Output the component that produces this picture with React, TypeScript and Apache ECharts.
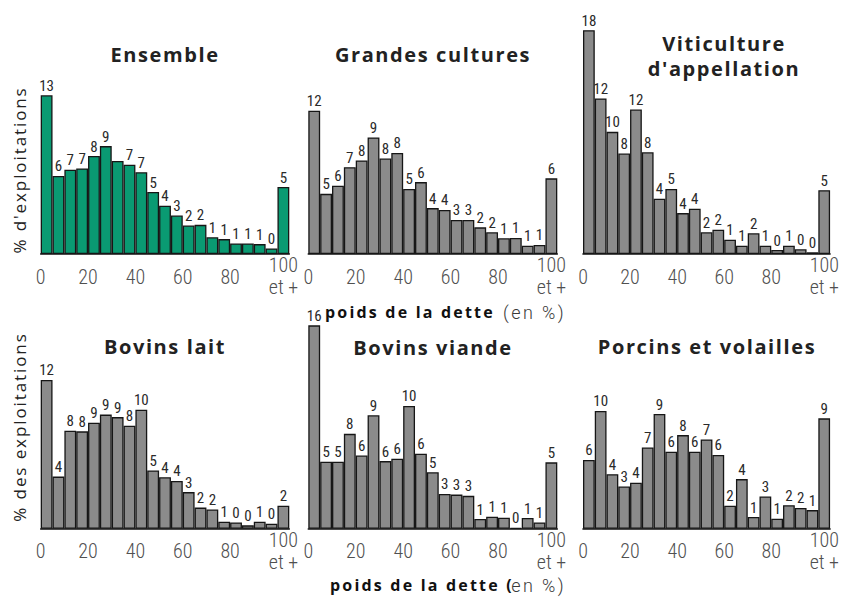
import React, { useEffect, useRef } from "react";
import * as echarts from "echarts";

// Bins of "poids de la dette" (en %), 5-point bins, last one = "100 et +"
const categories = ["0", "5", "10", "15", "20", "25", "30", "35", "40", "45", "50", "55", "60", "65", "70", "75", "80", "85", "90", "95", "100"];
const tickLabels = ["0", "20", "40", "60", "80", "100"];
const lastTickSuffix = "et +";

const titles = ["Ensemble", "Grandes cultures", "Viticulture\nd'appellation", "Bovins lait", "Bovins viande", "Porcins et volailles"];

// % d'exploitations (bar heights)
const ensemble = [12.8, 6.3, 6.8, 6.9, 7.9, 8.7, 7.5, 7.2, 6.6, 5.0, 3.9, 3.1, 2.3, 2.35, 1.35, 1.2, 0.85, 0.85, 0.8, 0.45, 5.4];
const ensembleLabels = [13, 6, 7, 7, 8, 9, null, 7, 7, 5, 4, 3, 2, 2, 1, 1, 1, 1, 1, 0, 5];

const grandesCultures = [11.55, 4.85, 5.5, 7.0, 7.55, 9.4, 7.7, 8.15, 5.25, 5.8, 3.7, 3.55, 2.75, 2.75, 2.15, 1.75, 1.27, 1.3, 0.67, 0.73, 6.1];
const grandesCulturesLabels = [12, 5, 6, 7, 8, 9, 8, 8, 5, 6, 4, 4, 3, 3, 2, 2, 1, 1, 1, 1, 6];

const viticulture = [18.05, 12.55, 9.85, 8.1, 11.65, 8.2, 4.45, 5.25, 3.3, 3.65, 1.75, 1.95, 1.15, 0.67, 1.67, 0.67, 0.32, 0.67, 0.38, 0.14, 5.15];
const viticultureLabels = [18, 12, 10, 8, 12, 8, 4, 5, 4, 4, 2, 2, 1, 1, 2, 1, 0, 1, 0, 0, 5];

const bovinsLait = [12.0, 4.2, 7.9, 7.85, 8.55, 9.2, 9.0, 8.3, 9.6, 4.7, 4.15, 3.85, 2.95, 1.7, 1.55, 0.56, 0.51, 0.27, 0.56, 0.4, 1.85];
const bovinsLaitLabels = [12, 4, 8, 8, 9, 9, 9, 8, 10, 5, 4, 4, 3, 2, 2, 1, 0, 0, 1, 0, 2];

const bovinsViande = [16.4, 5.4, 5.4, 7.65, 5.9, 9.15, 5.45, 5.65, 9.9, 6.05, 4.55, 2.8, 2.75, 2.65, 0.78, 0.97, 0.89, 0.06, 0.86, 0.51, 5.35];
const bovinsViandeLabels = [16, 5, 5, 8, 6, 9, 6, 6, 10, 6, 5, 3, 3, 3, 1, 1, 1, 0, 1, 1, 5];

const porcins = [5.55, 9.5, 4.4, 3.4, 3.7, 6.55, 9.25, 6.2, 7.55, 6.2, 7.2, 5.95, 1.85, 4.0, 0.94, 2.6, 0.81, 1.9, 1.67, 1.5, 8.9];
const porcinsLabels = [6, 10, 4, 3, 4, 7, 9, 6, 8, 6, 7, 6, 2, 4, 1, 3, 1, 2, 2, 1, 9];

const panelValues = [ensemble, grandesCultures, viticulture, bovinsLait, bovinsViande, porcins];
const panelLabels = [ensembleLabels, grandesCulturesLabels, viticultureLabels, bovinsLaitLabels, bovinsViandeLabels, porcinsLabels];

const yTitleTop = "% d'exploitations";
const yTitleBottom = "% des exploitations";

// layout
const COL_LEFT = [40.7, 308.3, 583];
const COL_W = [248.6, 249, 249.3];
const ROW_BASE = [254, 528.7];
const GRID_H = 230;
const PX_PER_UNIT = 12.4;
const Y_MAX = GRID_H / PX_PER_UNIT;

const NUM_FONT = "'Roboto Condensed', 'Roboto', sans-serif";
const SANS = "'Open Sans', 'Noto Sans', sans-serif";
const LIGHT = "Roboto, sans-serif";
const GREEN = "#0a9a72";
const GRAY = "#8b8b8b";
const TICK_COLOR = "#505050";

export default function App() {
  const ref = useRef<HTMLDivElement>(null);

  useEffect(() => {
    if (!ref.current) return;
    const chart = echarts.init(ref.current, null, { renderer: "svg" });

    const grid: any[] = [];
    const xAxis: any[] = [];
    const yAxis: any[] = [];
    const series: any[] = [];

    for (let i = 0; i < 6; i++) {
      const col = i % 3;
      const row = Math.floor(i / 3);
      grid.push({
        left: COL_LEFT[col],
        width: COL_W[col],
        top: ROW_BASE[row] - GRID_H,
        height: GRID_H,
      });
      yAxis.push({ type: "value", gridIndex: i, min: 0, max: Y_MAX, show: false });
      const labels = panelLabels[i];
      series.push({
        type: "bar",
        xAxisIndex: i,
        yAxisIndex: i,
        data: panelValues[i],
        barCategoryGap: "0%",
        itemStyle: { color: i === 0 ? GREEN : GRAY, borderColor: "#161616", borderWidth: 1.3 },
        label: {
          show: true,
          position: "top",
          distance: 2,
          fontFamily: NUM_FONT,
          fontSize: 15,
          fontWeight: 400,
          color: "#2a2a2a",
          formatter: (p: any) => {
            const l = labels[p.dataIndex];
            return l === null || l === undefined ? "" : String(l);
          },
        },
      });
    }
    // category axes (bars)
    for (let i = 0; i < 6; i++) {
      xAxis.push({
        type: "category",
        gridIndex: i,
        data: categories,
        boundaryGap: true,
        axisLine: { show: true, lineStyle: { color: "#111", width: 1.6 } },
        axisTick: { show: false },
        axisLabel: { show: false },
        splitLine: { show: false },
      });
    }
    // value axes (tick labels at bin boundaries)
    for (let i = 0; i < 6; i++) {
      xAxis.push({
        type: "value",
        gridIndex: i,
        position: "bottom",
        min: 0,
        max: 105,
        interval: 20,
        axisLine: { show: false },
        axisTick: { show: false },
        splitLine: { show: false },
        axisLabel: {
          show: true,
          margin: 0,
          hideOverlap: false,
          showMaxLabel: false,
          fontFamily: NUM_FONT,
          fontSize: 20,
          fontWeight: 300,
          color: TICK_COLOR,
          formatter: (v: number) => {
            if (v % 20 !== 0) return "";
            const idx = v / 20;
            const t = tickLabels[idx];
            if (idx === tickLabels.length - 1) return `{h|${t}}\n{h|${lastTickSuffix}}`;
            return `{n|${t}}`;
          },
          rich: {
            n: { fontFamily: NUM_FONT, fontSize: 20, fontWeight: 300, color: TICK_COLOR, lineHeight: 20, padding: [25, 0, 0, 0] },
            h: { fontFamily: NUM_FONT, fontSize: 20, fontWeight: 300, color: TICK_COLOR, lineHeight: 22, padding: [0, 0, 0, 12] },
          },
        },
      });
    }

    const titlePos = [
      [165, 54],
      [433, 54],
      [724, 56],
      [165, 346],
      [433, 347],
      [707, 346],
    ];
    const graphic: any[] = titles.map((t, i) => ({
      type: "text",
      x: titlePos[i][0],
      y: titlePos[i][1],
      style: {
        text: t,
        fontFamily: SANS,
        fontWeight: "bold",
        fontSize: 20,
        lineHeight: 25,
        fill: "#222",
        textAlign: "center",
        textVerticalAlign: "middle",
      },
    }));
    graphic.push(
      {
        type: "text",
        x: 19,
        y: 170,
        rotation: Math.PI / 2,
        style: { text: yTitleTop, fontFamily: SANS, fontSize: 17, fill: "#222", textAlign: "center", textVerticalAlign: "middle" },
      },
      {
        type: "text",
        x: 19,
        y: 427,
        rotation: Math.PI / 2,
        style: { text: yTitleBottom, fontFamily: SANS, fontSize: 17, fill: "#222", textAlign: "center", textVerticalAlign: "middle" },
      },
      {
        type: "text",
        x: 325,
        y: 312,
        style: { text: "poids de la dette", fontFamily: SANS, fontWeight: "bold", fontSize: 16, fill: "#111", textAlign: "left", textVerticalAlign: "middle" },
      },
      {
        type: "text",
        x: 566,
        y: 312,
        style: { text: "(en %)", fontFamily: LIGHT, fontWeight: 300, fontSize: 18, fill: "#3a3a3a", textAlign: "right", textVerticalAlign: "middle" },
      },
      {
        type: "text",
        x: 330,
        y: 585,
        style: { text: "poids de la dette (", fontFamily: SANS, fontWeight: "bold", fontSize: 16, fill: "#111", textAlign: "left", textVerticalAlign: "middle" },
      },
      {
        type: "text",
        x: 566,
        y: 585,
        style: { text: "en %)", fontFamily: LIGHT, fontWeight: 300, fontSize: 18, fill: "#3a3a3a", textAlign: "right", textVerticalAlign: "middle" },
      }
    );

    chart.setOption({
      animation: false,
      backgroundColor: "#fff",
      grid,
      xAxis,
      yAxis,
      series,
      graphic,
    });

    return () => chart.dispose();
  }, []);

  return (
    <>
      <style>{`
        .chartbox text[style*="Open Sans"][style*="20px"] { letter-spacing: 1.6px; }
        .chartbox text[style*="Open Sans"][style*="17px"] { letter-spacing: 1.9px; }
        .chartbox text[style*="Open Sans"][style*="16px"] { letter-spacing: 2.2px; }
        .chartbox text[style*="Roboto"]:not([style*="Condensed"]) { letter-spacing: 2.4px; }
      `}</style>
      <div
        ref={ref}
        className="chartbox"
        style={{ position: "absolute", left: 0, top: 0, width: 842, height: 599 }}
      />
    </>
  );
}
